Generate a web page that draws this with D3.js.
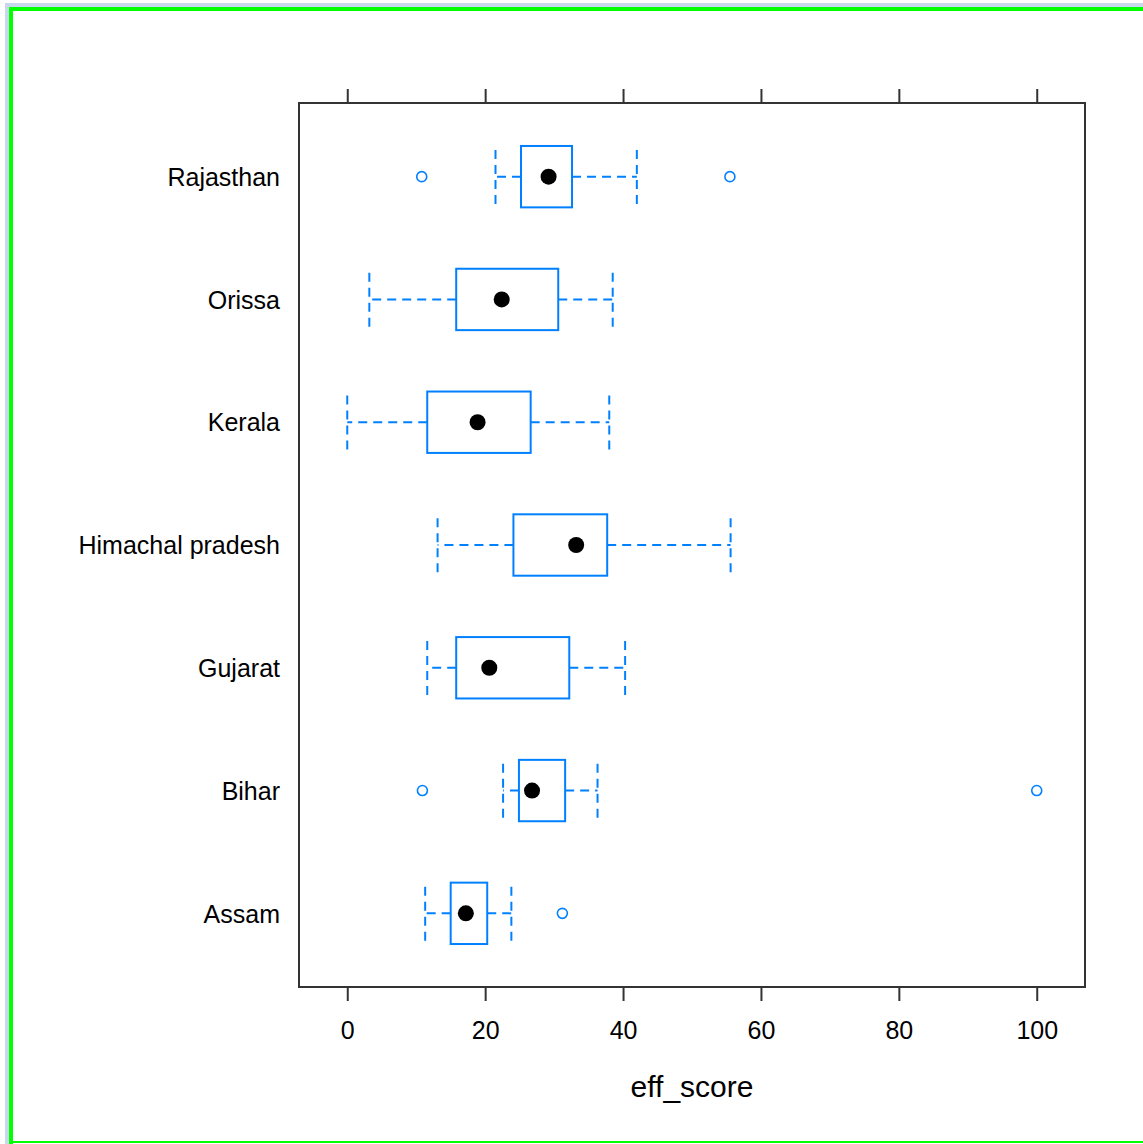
<!DOCTYPE html>
<html>
<head>
<meta charset="utf-8">
<script src="https://cdn.jsdelivr.net/npm/d3@7"></script>
<style>
  body { margin: 0; background: #fff; }
  text { font-family: "Liberation Sans", Arial, sans-serif; fill: #000; }
</style>
</head>
<body>
<script>
// box statistics, bottom to top
const states = ["Assam", "Bihar", "Gujarat", "Himachal pradesh", "Kerala", "Orissa", "Rajasthan"];
const whiskLo = [11.3, 22.6, 11.6, 13.1, 0.0, 3.2, 21.5];
const q1 = [15.0, 24.9, 15.8, 24.1, 11.6, 15.8, 25.2];
const medians = [17.2, 26.8, 20.6, 33.2, 18.9, 22.4, 29.2];
const q3 = [20.3, 31.6, 32.2, 37.7, 26.6, 30.6, 32.6];
const whiskHi = [23.8, 36.3, 40.3, 55.6, 38.0, 38.5, 42.0];
const outliers = [[31.2], [10.9, 100], [], [], [], [], [10.8, 55.5]];
const xTicks = [0, 20, 40, 60, 80, 100];

const W = 1143, H = 1144;
const margin = { top: 103, bottom: 157, left: 299, right: 58 };
const blue = "#0080ff";

const svg = d3.select("body")
    .append("svg")
    .attr("width", W)
    .attr("height", H);

// window border
svg.append("rect").attr("x", 5).attr("y", 3).attr("width", W - 5).attr("height", 4).attr("fill", "#c8d8ec");
svg.append("rect").attr("x", 5).attr("y", 3).attr("width", 4).attr("height", H - 3).attr("fill", "#c8d8ec");
svg.append("rect").attr("x", 9).attr("y", 7).attr("width", W - 9).attr("height", 4).attr("fill", "#00ff00");
svg.append("rect").attr("x", 9).attr("y", 7).attr("width", 4).attr("height", H - 7).attr("fill", "#00ff00");
svg.append("rect").attr("x", 9).attr("y", H - 3).attr("width", W - 9).attr("height", 2).attr("fill", "#00ff00");

const x0 = margin.left, x1 = W - margin.right;
const y0 = margin.top, y1 = H - margin.bottom;

const xscale = d3.scaleLinear().domain([-7, 107]).range([x0, x1]);
const yscale = d3.scalePoint().domain(states.slice().reverse()).range([y0, y1]).padding(0.6);
const boxH = yscale.step() * 0.5;

// axes
const gx = svg.append("g")
    .attr("transform", `translate(0,${y1})`)
    .call(d3.axisBottom(xscale).tickValues(xTicks).tickSize(14).tickPadding(20));
const gxt = svg.append("g")
    .attr("transform", `translate(0,${y0})`)
    .call(d3.axisTop(xscale).tickValues(xTicks).tickSize(14).tickFormat(""));
const gy = svg.append("g")
    .attr("transform", `translate(${x0},0)`)
    .call(d3.axisLeft(yscale).tickSize(0).tickPadding(19));

[gx, gxt, gy].forEach(g => {
    g.select(".domain").remove();
    g.selectAll("line").attr("stroke", "#333").attr("stroke-width", 2);
    g.selectAll("text").style("font-size", "25px").attr("fill", "#000");
});
gy.selectAll("text").attr("dy", "0.35em");

svg.append("rect")
    .attr("x", x0).attr("y", y0)
    .attr("width", x1 - x0).attr("height", y1 - y0)
    .attr("fill", "none").attr("stroke", "#333").attr("stroke-width", 2);

svg.append("text")
    .attr("x", (x0 + x1) / 2)
    .attr("y", 1097)
    .attr("text-anchor", "middle")
    .style("font-size", "30px")
    .text("eff_score");

// boxes
const rows = svg.append("g").selectAll("g")
    .data(states)
    .join("g")
    .attr("transform", d => `translate(0,${yscale(d)})`);

const dash = "9,6";

rows.append("line")
    .attr("x1", (d, i) => xscale(q1[i])).attr("x2", (d, i) => xscale(whiskLo[i]))
    .attr("stroke", blue).attr("stroke-width", 2).attr("stroke-dasharray", dash);
rows.append("line")
    .attr("x1", (d, i) => xscale(q3[i])).attr("x2", (d, i) => xscale(whiskHi[i]))
    .attr("stroke", blue).attr("stroke-width", 2).attr("stroke-dasharray", dash);
rows.append("line")
    .attr("x1", (d, i) => xscale(whiskLo[i])).attr("x2", (d, i) => xscale(whiskLo[i]))
    .attr("y1", -boxH / 2 + 4).attr("y2", boxH / 2 + 1)
    .attr("stroke", blue).attr("stroke-width", 2).attr("stroke-dasharray", dash);
rows.append("line")
    .attr("x1", (d, i) => xscale(whiskHi[i])).attr("x2", (d, i) => xscale(whiskHi[i]))
    .attr("y1", -boxH / 2 + 4).attr("y2", boxH / 2 + 1)
    .attr("stroke", blue).attr("stroke-width", 2).attr("stroke-dasharray", dash);

rows.append("rect")
    .attr("x", (d, i) => xscale(q1[i]))
    .attr("y", -boxH / 2)
    .attr("width", (d, i) => xscale(q3[i]) - xscale(q1[i]))
    .attr("height", boxH)
    .attr("fill", "#fff")
    .attr("stroke", blue).attr("stroke-width", 2);

rows.append("circle")
    .attr("cx", (d, i) => xscale(medians[i]))
    .attr("r", 8)
    .attr("fill", "#000");

rows.selectAll(".out")
    .data((d, i) => outliers[i])
    .join("circle")
    .attr("class", "out")
    .attr("cx", v => xscale(v))
    .attr("r", 5)
    .attr("fill", "none")
    .attr("stroke", blue).attr("stroke-width", 1.6);
</script>
</body>
</html>
